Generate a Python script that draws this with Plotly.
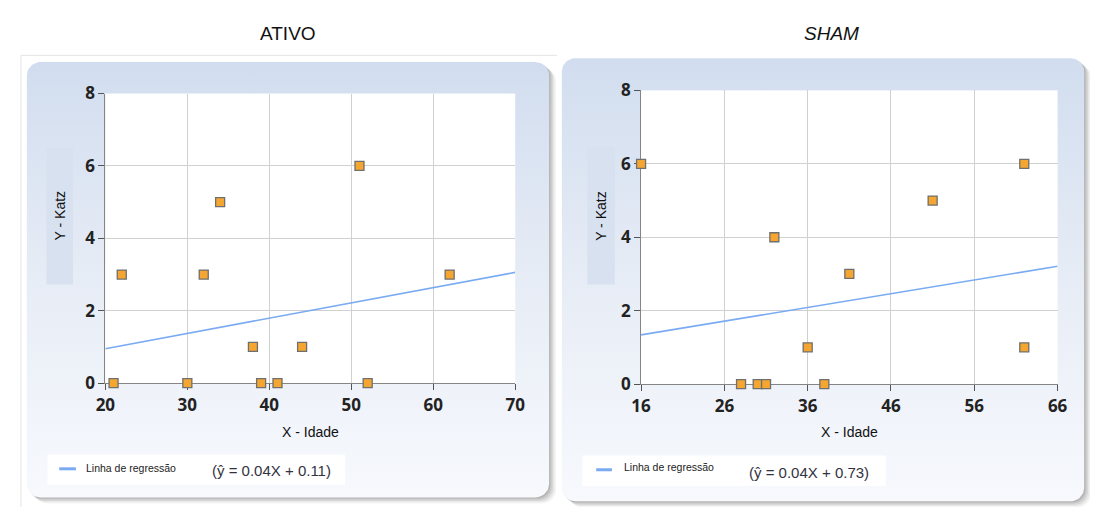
import numpy as np
import plotly.graph_objects as go

# The page keeps the browser's default 8px body margin, so the figure covers
# reference pixels 8..1100 x 8..518 and everything is placed in reference pixels.
REF_W, REF_H = 1100, 518
OX, OY = 8, 8
FW, FH = REF_W - OX, REF_H - OY

# ---------------- data ----------------
ativo_idade = [21, 22, 30, 32, 34, 38, 39, 41, 44, 51, 52, 62]
ativo_katz = [0, 3, 0, 3, 5, 1, 0, 0, 1, 6, 0, 3]
ativo_reg_x = [20, 70]
ativo_reg_y = [0.95, 3.06]

sham_idade = [16, 28, 30, 31, 32, 36, 38, 41, 51, 62, 62]
sham_katz = [6, 0, 0, 0, 4, 1, 0, 3, 5, 6, 1]
sham_reg_x = [16, 66]
sham_reg_y = [1.34, 3.21]

y_ticks = [0, 2, 4, 6, 8]
ativo_x_ticks = [20, 30, 40, 50, 60, 70]
sham_x_ticks = [16, 26, 36, 46, 56, 66]

panel_titles = ["ATIVO", "<i>SHAM</i>"]
eq_labels = ["(ŷ = 0.04X + 0.11)", "(ŷ = 0.04X + 0.73)"]
legend_label = "Linha de regressão"
x_title = "X - Idade"
y_title = "Y - Katz"

# ---------------- styles / layout ----------------
CARD_TOP = "#d1ddef"
CARD_MID = "#e5ebf5"
CARD_BOT = "#f7f9fd"
YBOX = "#d7e1f0"
MARKER = "#f5a630"
MARKER_LINE = "#6f6f6f"
REG = "#7aabf2"
GRID = "#d0d0d0"
AXIS = "#858585"
TICKTXT = "#222222"

# panel geometry in reference pixels (top-left origin)
panels = [
    dict(card=(17, 52, 549, 508), plot=(97, 85, 514.5, 388.3),
         ybox=(37, 142, 64, 285), legend=(38, 463, 341, 495),
         leg_line=(50, 67, 478), leg_txt=(75, 477), eq=(204, 480),
         title=(283, 22)),
    dict(card=(562, 48, 1094, 512), plot=(642.7, 81.7, 1067, 389.3),
         ybox=(588, 141, 616, 285), legend=(583, 464, 892, 496),
         leg_line=(597, 613, 479), leg_txt=(623, 476), eq=(751, 482),
         title=(837, 22)),
]


def py(y):
    return FH - (y - OY)


def rr_points(x0, y0, x1, y1, r, n=14):
    pts = []
    corners = [(x1 - r, y0 + r, -90, 0), (x1 - r, y1 - r, 0, 90),
               (x0 + r, y1 - r, 90, 180), (x0 + r, y0 + r, 180, 270)]
    for cx, cy, a0, a1 in corners:
        for a in np.radians(np.linspace(a0, a1, n)):
            pts.append((cx + r * np.cos(a), cy + r * np.sin(a)))
    xs = [p[0] for p in pts] + [pts[0][0]]
    ys = [py(p[1]) for p in pts] + [py(pts[0][1])]
    return xs, ys


def rr_path(x0, y0, x1, y1, r):
    xs, ys = rr_points(x0, y0, x1, y1, r)
    return "M " + " L ".join(f"{a:.2f},{b:.2f}" for a, b in zip(xs, ys)) + " Z"


def rect_xy(x0, y0, x1, y1):
    return [x0, x1, x1, x0, x0], [py(y0), py(y0), py(y1), py(y1), py(y0)]


fig = go.Figure()
shapes = []
annotations = []

# background subplot (reference pixel coordinates)
for p in panels:
    x0, y0, x1, y1 = p["card"]
    for k, op in zip([7, 5.5, 4, 2.5, 1.2], [0.05, 0.07, 0.09, 0.11, 0.13]):
        shapes.append(dict(type="path", xref="x", yref="y", layer="below",
                           path=rr_path(x0 + k, y0 + k * 0.9, x1 + k, y1 + k * 0.9, 14),
                           fillcolor=f"rgba(60,60,60,{op})", line=dict(width=0)))
    xs, ys = rr_points(x0, y0, x1, y1, 14)
    fig.add_trace(go.Scatter(
        x=xs, y=ys, mode="lines", fill="toself", line=dict(width=0),
        fillgradient=dict(type="vertical",
                          colorscale=[[0, CARD_BOT], [0.55, CARD_MID], [1, CARD_TOP]]),
        hoverinfo="skip", showlegend=False, xaxis="x", yaxis="y"))
    bx, by = rect_xy(*p["ybox"])
    fig.add_trace(go.Scatter(x=bx, y=by, mode="lines", fill="toself", fillcolor=YBOX,
                             line=dict(width=0), hoverinfo="skip", showlegend=False,
                             xaxis="x", yaxis="y"))
    lx, ly = rect_xy(*p["legend"])
    fig.add_trace(go.Scatter(x=lx, y=ly, mode="lines", fill="toself", fillcolor="white",
                             line=dict(width=0), hoverinfo="skip", showlegend=False,
                             xaxis="x", yaxis="y"))
    a, b, yy = p["leg_line"]
    fig.add_trace(go.Scatter(x=[a, b], y=[py(yy), py(yy)], mode="lines",
                             line=dict(color=REG, width=3), hoverinfo="skip",
                             showlegend=False, xaxis="x", yaxis="y"))

shapes.append(dict(type="path", xref="x", yref="y", layer="below",
                   path=f"M 11,{py(520)} L 11,{py(45)} L 557,{py(45)}",
                   line=dict(color="#e4e4e4", width=1)))

# data subplots
data_sets = [
    (ativo_idade, ativo_katz, ativo_reg_x, ativo_reg_y, ativo_x_ticks, "x2", "y2"),
    (sham_idade, sham_katz, sham_reg_x, sham_reg_y, sham_x_ticks, "x3", "y3"),
]
for xi, yi, rx, ry, xt, xa, ya in data_sets:
    fig.add_trace(go.Scatter(x=rx, y=ry, mode="lines", line=dict(color=REG, width=1.6),
                             showlegend=False, xaxis=xa, yaxis=ya, cliponaxis=False))
    fig.add_trace(go.Scatter(x=xi, y=yi, mode="markers", cliponaxis=False,
                             marker=dict(symbol="square", size=9, color=MARKER,
                                         line=dict(color=MARKER_LINE, width=1.3)),
                             showlegend=False, xaxis=xa, yaxis=ya))

layout_axes = {}
for i, (p, ds) in enumerate(zip(panels, data_sets), start=2):
    x0, y0, x1, y1 = p["plot"]
    xt = ds[4]
    common = dict(showgrid=True, gridcolor=GRID, gridwidth=1, showline=True,
                  linecolor=AXIS, linewidth=1, ticks="outside", ticklen=6,
                  tickcolor="#555555", tickwidth=1, zeroline=False,
                  layer="below traces", fixedrange=True,
                  tickfont=dict(family="Open Sans", size=17, color=TICKTXT, weight=700))
    layout_axes[f"xaxis{i}"] = dict(domain=[(x0 - OX) / FW, (x1 - OX) / FW],
                                    range=[xt[0], xt[-1]],
                                    tickvals=xt, anchor=f"y{i}", **common)
    layout_axes[f"yaxis{i}"] = dict(domain=[py(y1) / FH, py(y0) / FH],
                                    range=[y_ticks[0], y_ticks[-1]],
                                    tickvals=y_ticks, anchor=f"x{i}", **common)
    tx, ty = p["title"]
    annotations.append(dict(x=tx, y=py(ty), xref="x", yref="y", text=panel_titles[i - 2],
                            showarrow=False, font=dict(family="Liberation Sans", size=19,
                                                       color="#111111")))
    bx0, by0, bx1, by1 = p["ybox"]
    annotations.append(dict(x=(bx0 + bx1) / 2, y=py(213), xref="x", yref="y",
                            text=y_title, textangle=-90, showarrow=False,
                            font=dict(family="Liberation Sans", size=14, color="#111111")))
    annotations.append(dict(x=(x0 + x1) / 2, y=py(439), xref="x", yref="y",
                            text=x_title, showarrow=False,
                            font=dict(family="Liberation Sans", size=14, color="#111111")))
    lt = p["leg_txt"]
    annotations.append(dict(x=lt[0], y=py(lt[1]), xref="x", yref="y", xanchor="left",
                            text=legend_label, showarrow=False,
                            font=dict(family="Liberation Sans", size=10.5, color="#222222")))
    eq = p["eq"]
    annotations.append(dict(x=eq[0], y=py(eq[1]), xref="x", yref="y", xanchor="left",
                            text=eq_labels[i - 2], showarrow=False,
                            font=dict(family="Liberation Sans Narrow, Liberation Sans",
                                      size=15, color="#333340")))

fig.update_layout(
    width=FW, height=FH, margin=dict(l=0, r=0, t=0, b=0),
    paper_bgcolor="white", plot_bgcolor="white",
    xaxis=dict(domain=[0, 1], range=[OX, OX + FW], visible=False, fixedrange=True),
    yaxis=dict(domain=[0, 1], range=[0, FH], visible=False, fixedrange=True),
    shapes=shapes, annotations=annotations, showlegend=False,
    **layout_axes,
)

fig.write_html("out.html", config={"displayModeBar": False})
